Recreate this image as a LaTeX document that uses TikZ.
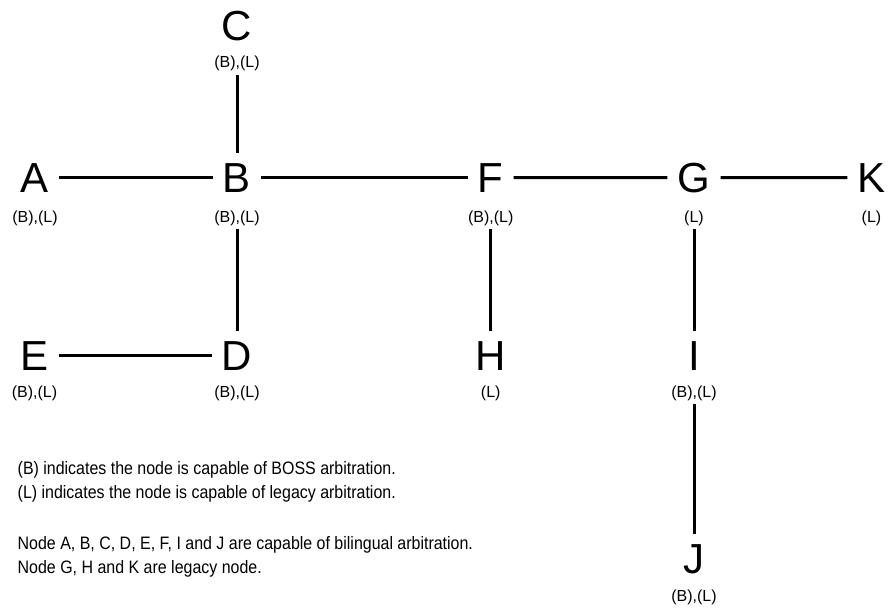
\documentclass[tikz,border=0pt]{standalone}
\usepackage{fontspec}
\setmainfont{Liberation Sans}
\newfontfamily\narrowsans[FakeStretch=0.887]{Liberation Sans}
\begin{document}
\begin{tikzpicture}[x=1pt,y=-1pt,
  letter/.style={font=\fontsize{42}{42}\selectfont, inner xsep=10pt, inner ysep=10pt, anchor=base},
  caps/.style={font=\fontsize{16}{16}\selectfont, inner sep=3.5pt, anchor=base},
  link/.style={line width=3pt},
  note/.style={font=\narrowsans\fontsize{18}{24}\selectfont, anchor=base west, inner sep=0pt}]
\useasboundingbox (0,0) rectangle (889,610);

% node letters
\node[letter] (A) at (35,192) {A};
\node[letter] (B) at (237,192) {B};
\node[letter] (C) at (237,41) {C};
\node[letter] (D) at (237,370) {D};
\node[letter] (E) at (34.5,370) {E};
\node[letter] (F) at (490.7,192) {F};
\node[letter] (G) at (694,192) {G};
\node[letter] (H) at (490.7,370) {H};
\node[letter] (I) at (694,370) {I};
\node[letter] (J) at (694,573) {J};
\node[letter] (K) at (871.5,192) {K};

% arbitration capabilities
\node[caps] (Acap) at (35,222) {(B),(L)};
\node[caps] (Bcap) at (237,222) {(B),(L)};
\node[caps] (Ccap) at (237,68) {(B),(L)};
\node[caps] (Dcap) at (237,397) {(B),(L)};
\node[caps] (Ecap) at (34.5,397) {(B),(L)};
\node[caps] (Fcap) at (490.7,222) {(B),(L)};
\node[caps] (Gcap) at (694,222) {(L)};
\node[caps] (Hcap) at (490.7,397) {(L)};
\node[caps] (Icap) at (694,397) {(B),(L)};
\node[caps] (Jcap) at (694,601) {(B),(L)};
\node[caps] (Kcap) at (871.5,222) {(L)};

% links
\draw[link] (A) -- (B);
\draw[link] (B) -- (F);
\draw[link] (F) -- (G);
\draw[link] (G) -- (K);
\draw[link] (E) -- (D);
\draw[link] (Ccap) -- (B);
\draw[link] (Bcap) -- (D);
\draw[link] (Fcap) -- (H);
\draw[link] (Gcap) -- (I);
\draw[link] (Icap) -- (J);

% legend
\node[note] (n1) at (17.5,474.5) {(B) indicates the node is capable of BOSS arbitration.};
\node[note] (n2) at (17.5,498.5) {(L) indicates the node is capable of legacy arbitration.};
\node[note] (n3) at (17.5,549.5) {Node A, B, C, D, E, F, I and J are capable of bilingual arbitration.};
\node[note] (n4) at (17.5,573.5) {Node G, H and K are legacy node.};
\end{tikzpicture}
\end{document}
